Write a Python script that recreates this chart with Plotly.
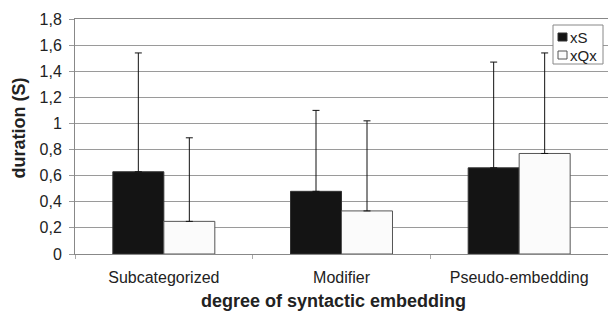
import plotly.graph_objects as go

categories = ["Subcategorized", "Modifier", "Pseudo-embedding"]
series_names = ["xS", "xQx"]
xs_mean = [0.63, 0.48, 0.66]
xs_sd = [0.91, 0.62, 0.81]
xqx_mean = [0.25, 0.33, 0.77]
xqx_sd = [0.64, 0.69, 0.77]
y_tick_vals = [0, 0.2, 0.4, 0.6, 0.8, 1.0, 1.2, 1.4, 1.6, 1.8]
y_tick_text = ["0", "0,2", "0,4", "0,6", "0,8", "1", "1,2", "1,4", "1,6", "1,8"]
x_title = "degree of syntactic embedding"
y_title = "duration (S)"

FONT = "Liberation Sans, Arial, sans-serif"
TXT = "#222222"
FILL = ["#141414", "#fbfbfb"]
EDGE = ["#333333", "#555555"]

fig = go.Figure()
for name, mean, sd, fill, edge in zip(series_names, [xs_mean, xqx_mean],
                                      [xs_sd, xqx_sd], FILL, EDGE):
    fig.add_trace(go.Bar(
        name=name, x=categories, y=mean,
        marker=dict(color=fill, line=dict(color=edge, width=1)),
        error_y=dict(type="data", symmetric=False, array=sd,
                     arrayminus=[0] * len(sd), color="#111111",
                     thickness=1, width=3.5),
        showlegend=False,
    ))

# pixel -> paper helpers (plot area in page pixels)
L = 75; R = 608; T = 19; B = 254
def px(x):
    return (x - L) / (R - L)
def py(y):
    return (B - y) / (B - T)

shapes = [
    dict(type="rect", xref="paper", yref="paper",
         x0=px(553), x1=px(603), y0=py(64), y1=py(25),
         fillcolor="white", line=dict(color="#888888", width=1), layer="above"),
]
annotations = []
for i, (name, fill, edge) in enumerate(zip(series_names, FILL, EDGE)):
    cy = 37 + 18 * i
    shapes.append(dict(type="rect", xref="paper", yref="paper",
                       x0=px(558), x1=px(567), y0=py(cy + 4), y1=py(cy - 4),
                       fillcolor=fill, line=dict(color=edge, width=1),
                       layer="above"))
    annotations.append(dict(text=name, xref="paper", yref="paper",
                            x=px(568), y=py(cy), xanchor="left",
                            yanchor="middle", showarrow=False,
                            font=dict(size=15, family=FONT, color=TXT)))

# axis titles
annotations.append(dict(text="<b>%s</b>" % x_title, xref="paper", yref="paper",
                        x=px(333.5), y=py(301), xanchor="center",
                        yanchor="middle", showarrow=False,
                        font=dict(size=18, family=FONT, color=TXT)))
annotations.append(dict(text="<b>%s</b>" % y_title, xref="paper", yref="paper",
                        x=px(19), y=py(127.5), xanchor="center",
                        yanchor="middle", showarrow=False, textangle=-90,
                        font=dict(size=18, family=FONT, color=TXT)))

fig.update_layout(
    width=608, height=313,
    margin=dict(l=L, r=608 - R, t=T, b=313 - B),
    paper_bgcolor="white", plot_bgcolor="white",
    barmode="group", bargap=0.426, bargroupgap=0,
    font=dict(family=FONT, size=16, color=TXT),
    showlegend=False,
    shapes=shapes, annotations=annotations,
    xaxis=dict(
        showline=True, linecolor="#888888", linewidth=1, mirror=True,
        ticks="outside", tickson="boundaries", ticklen=4,
        tickcolor="#aaaaaa", showgrid=False, ticklabelstandoff=9,
        tickfont=dict(size=16), automargin=False,
    ),
    yaxis=dict(
        range=[0, 1.8], tickvals=y_tick_vals, ticktext=y_tick_text,
        showline=True, linecolor="#888888", linewidth=1,
        ticks="outside", ticklen=5, tickcolor="#999999",
        showgrid=True, gridcolor="#9a9a9a", gridwidth=1,
        zeroline=False, tickfont=dict(size=16), automargin=False,
        ticklabelstandoff=4,
    ),
)

fig.write_html("out.html", config={"displayModeBar": False},
               post_script="document.body.style.margin='0';")
